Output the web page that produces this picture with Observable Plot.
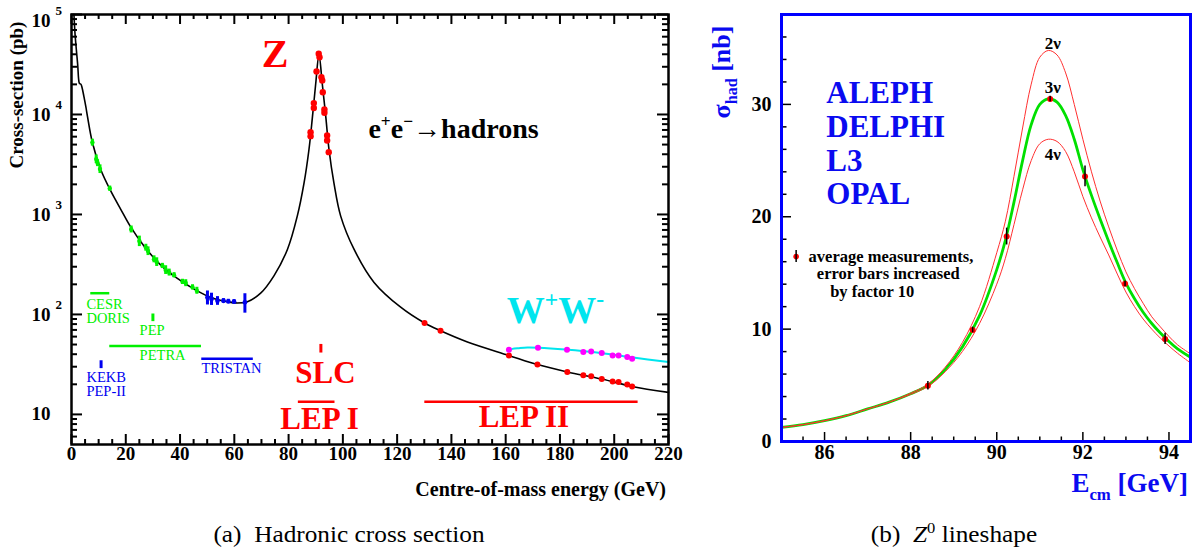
<!DOCTYPE html>
<html><head><meta charset="utf-8">
<script src="https://cdn.jsdelivr.net/npm/d3@7"></script>
<script src="https://cdn.jsdelivr.net/npm/@observablehq/plot@0.6"></script>
<style>
body{margin:0;background:#fff;}
#wrap{position:relative;width:1200px;height:554px;overflow:hidden;font-family:"Liberation Serif",serif;background:#fff;}
#pa{position:absolute;left:0;top:0;}
#pb{position:absolute;left:700px;top:0;}
.cap{position:absolute;top:521px;font-family:"Liberation Serif",serif;font-size:23px;line-height:28px;white-space:nowrap;transform:translateX(-50%) scaleX(1.1);color:#000;}
.cap sup{font-size:15px;line-height:0;}
</style></head><body>
<div id="wrap"><div id="pa"></div><div id="pb"></div>
<div class="cap" style="left:349px">(a)&nbsp; Hadronic cross section</div>
<div class="cap" style="left:954px">(b)&nbsp; <i>Z</i><sup>0</sup> lineshape</div>
</div>
<script>
const FONT = "Liberation Serif";
const RED = "#ff0000", GREEN = "#00f000", BLUE = "#0000f0", MAG = "#ff00ff", CYAN = "#00e5ee", TBLUE = "#0a0af0";

// ---------------- Panel (a): hadronic cross section ----------------
const xTickLabelsA = [0, 20, 40, 60, 80, 100, 120, 140, 160, 180, 200, 220];
const yTickExpA = [1, 2, 3, 4, 5];

// theory curve (GeV, pb)
const curveE  = [0.9, 1.3, 1.8, 2.3, 2.6, 2.9, 3.5, 3.9, 4.6, 5.3, 5.9, 7.7, 10.8, 14.5, 18.2, 21.8, 26.7, 32.9, 39.0, 45.2, 51.3, 57.5, 61.1, 64.8, 69.7, 74.6, 79.6, 83.2, 85.7, 87.5, 88.8, 90.0, 91.2, 92.4, 93.7, 94.9, 96.7, 99.2, 104.1, 111.5, 121.3, 130.1, 136.0, 145.9, 161.2, 171.7, 182.7, 195.4, 206.6, 220];
const curveXS = [100000, 64000, 44000, 31000, 23000, 20500, 20000, 18500, 15000, 11900, 9500, 5240, 2800, 1710, 1120, 750, 484, 311, 229, 179, 148, 134, 130, 134, 163, 243, 449, 962, 2070, 4440, 9500, 20400, 39500, 20400, 9500, 4440, 2070, 962, 449, 209, 118, 82, 68.6, 53, 38.9, 31.5, 26.6, 22.6, 19.0, 16.6];

// low-energy measurements (CESR, DORIS, PEP, PETRA)
const lowE   = [7.7, 9.1, 9.6, 10.5, 14.1, 22.0, 25.0, 27.4, 28.2, 30.4, 31.4, 33.5, 34.7, 36.0, 37.8, 40.9, 42.1, 44.6, 46.2];
const lowXS  = [5240, 3580, 3270, 2850, 1815, 710, 542, 466, 431, 357, 335, 306, 279, 263, 247, 212, 206, 187, 173];
const lowErr = [0.08, 0.10, 0.08, 0.10, 0.06, 0.08, 0.12, 0.08, 0.10, 0.08, 0.10, 0.06, 0.10, 0.08, 0.06, 0.06, 0.08, 0.06, 0.08];
// TRISTAN
const triE   = [50.1, 51.6, 53.8, 56.0, 57.8, 59.9, 63.9];
const triXS  = [148, 143, 137, 137, 135, 134, 132];
const triErr = [0.16, 0.14, 0.10, 0.05, 0.05, 0.05, 0.22];
// LEP I (Z peak)
const zE  = [88.1, 88.1, 89.3, 89.3, 90.3, 91.1, 91.4, 92.1, 92.4, 92.6, 93.2, 93.2, 94.2, 94.2, 94.8];
const zXS = [6650, 6070, 13000, 11600, 26900, 40500, 37400, 23600, 21900, 16700, 11200, 10400, 6170, 5500, 4200];
// LEP II hadrons
const lep2E  = [130.1, 136.0, 161.2, 171.7, 182.7, 188.6, 191.5, 195.4, 199.4, 201.6, 204.8, 206.6];
const lep2XS = [82.2, 68.6, 38.9, 31.5, 26.6, 24.6, 24.1, 22.6, 21.3, 21.1, 19.9, 19.0];
// W+W- measurements and curve
const wwE  = [161.2, 171.9, 182.6, 188.6, 191.5, 195.4, 199.4, 201.6, 204.8, 206.6];
const wwXS = [44.4, 46.5, 44.4, 42.1, 42.7, 41.1, 38.9, 38.9, 37.5, 36.1];
const wwCurveE  = [161.2, 162.5, 165, 168, 172, 182, 195, 207, 220];
const wwCurveXS = [43.5, 45.2, 46.0, 46.6, 46.4, 44.6, 41.2, 37.0, 33.4];

// facility annotations (GeV, pb)
const facNames = ["CESR", "DORIS", "PEP", "PETRA", "TRISTAN", "KEKB", "PEP-II"];
const facGroup = ["low", "low", "low", "low", "tri", "tri", "tri"];
const facLabX  = [5.5, 5.5, 25.1, 25.1, 47.9, 5.5, 5.5];
const facLabY  = [127, 91.5, 69, 38.9, 28.7, 23.6, 16.9];
const rangeLines = [
  {g: "low", x1: 7.1, x2: 14.1, y: 163},
  {g: "low", x1: 14.1, x2: 47.9, y: 48.3},
  {g: "tri", x1: 48.0, x2: 67.0, y: 36.1},
  {g: "lep", x1: 83.6, x2: 97.1, y: 13.4},
  {g: "lep", x1: 130.2, x2: 208.8, y: 13.4}
];
const pointMarks = [
  {g: "low", x: 30.0, y1: 84.7, y2: 101},
  {g: "tri", x: 10.9, y1: 28.7, y2: 34.4},
  {g: "lep", x: 91.9, y1: 41.1, y2: 50.1}
];
const bigLabels = [
  {t: "Z", x: 75.0, y: 40000},
  {t: "SLC", x: 93.6, y: 26.2},
  {t: "LEP I", x: 91.4, y: 9.0},
  {t: "LEP II", x: 166.7, y: 9.3}
];
const groupColor = {low: GREEN, tri: BLUE, lep: RED};

// ---------------- Panel (b): Z lineshape ----------------
const xTickLabelsB = [86, 88, 90, 92, 94];
const yTickLabelsB = [0, 10, 20, 30];
const lsE = [85, 85.5, 86, 86.5, 87, 87.5, 88, 88.4, 88.8, 89.2, 89.6, 90.0, 90.2, 90.4, 90.6, 90.8, 91.0, 91.2, 91.4, 91.6, 91.8, 92.0, 92.2, 92.4, 92.6, 92.8, 93.0, 93.2, 93.4, 93.6, 93.8, 94.0, 94.2, 94.5];
const ls3nu = [1.25, 1.5, 1.85, 2.3, 2.9, 3.5, 4.25, 5.0, 6.4, 8.4, 11.2, 15.3, 17.9, 21.3, 25.0, 28.2, 30.0, 30.5, 30.2, 29.0, 26.9, 24.2, 21.9, 19.8, 17.8, 15.9, 14.1, 12.7, 11.5, 10.5, 9.65, 8.9, 8.25, 7.5];
const ls2nu = [1.25, 1.5, 1.85, 2.3, 2.9, 3.5, 4.3, 5.1, 6.6, 8.8, 12.0, 16.8, 19.6, 23.6, 27.9, 31.8, 34.2, 34.8, 34.4, 32.8, 30.0, 26.9, 24.0, 21.4, 19.1, 17.0, 15.1, 13.6, 12.3, 11.1, 10.2, 9.35, 8.6, 7.8];
const ls4nu = [1.25, 1.5, 1.85, 2.3, 2.9, 3.5, 4.2, 4.9, 6.2, 8.0, 10.5, 14.0, 16.3, 19.3, 22.4, 25.0, 26.5, 26.9, 26.7, 25.8, 24.0, 21.8, 19.9, 18.2, 16.6, 14.9, 13.3, 12.0, 10.9, 10.0, 9.2, 8.5, 7.85, 7.0];
const measE   = [88.40, 89.44, 90.23, 91.24, 92.05, 92.98, 93.91];
const measSig = [4.96, 9.93, 18.24, 30.48, 23.59, 14.03, 9.13];
const measErr = [0.37, 0.15, 0.75, 0.12, 0.93, 0.15, 0.50];
const nuLabels = [{t: "2ν", x: 91.3, y: 35.45}, {t: "3ν", x: 91.3, y: 31.5}, {t: "4ν", x: 91.3, y: 25.55}];
const experiments = ["ALEPH", "DELPHI", "L3", "OPAL"];
const expY = [31, 28, 25, 22];
const legendLines = [
  {t: "average measurements,", x: 85.63, y: 16.4},
  {t: "error bars increased", x: 85.82, y: 14.92},
  {t: "by factor 10", x: 86.13, y: 13.37}
];
const legendMarker = [{x: 85.34, y: 16.46, e: 0.53}];

// helper: rich text with super/subscripts
function rich(svg, {x, y, size, weight = "bold", fill = "#000", anchor = "start", rotate = 0, parts}) {
  const t = d3.select(svg).append("text")
    .attr("transform", `translate(${x},${y}) rotate(${rotate})`)
    .attr("text-anchor", anchor).attr("font-family", FONT)
    .attr("font-size", size).attr("font-weight", weight).attr("fill", fill);
  let shift = 0;
  for (const [s, k] of parts) {
    const target = k === "sup" ? -0.42 * size : k === "sub" ? 0.28 * size : 0;
    t.append("tspan").attr("dy", target - shift).attr("font-size", k ? size * 0.62 : size).text(s);
    shift = target;
  }
}

// ---------- build panel (a) ----------
const WA = 690, HA = 500, mA = {l: 71, r: 22, t: 14, b: 56};
const fhA = HA - mA.t - mA.b, fwA = WA - mA.l - mA.r;
const xMajA = d3.range(0, 221, 20), xMinA = d3.range(0, 221, 5).filter(d => d % 20);
const yMajA = yTickExpA.map(e => 10 ** e);
const yMinA = [];
for (let k = 0; k <= 4; k++) for (let m = 2; m <= 9; m++) { const v = m * 10 ** k; if (v > 5 && v < 1e5) yMinA.push(v); }
const zip = (a, b, c) => a.map((d, i) => ({x: d, y: b[i], e: c ? c[i] : 0}));
const curve = zip(curveE, curveXS), low = zip(lowE, lowXS, lowErr), tri = zip(triE, triXS, triErr);
const zpk = zip(zE, zXS), lep2 = zip(lep2E, lep2XS), ww = zip(wwE, wwXS), wwc = zip(wwCurveE, wwCurveXS);
const facs = facNames.map((t, i) => ({t, g: facGroup[i], x: facLabX[i], y: facLabY[i]}));
const expInner = yTickExpA.filter(d => d < 5), expTop = yTickExpA.filter(d => d === 5);

const plotA = Plot.plot({
  width: WA, height: HA, marginLeft: mA.l, marginRight: mA.r, marginTop: mA.t, marginBottom: mA.b,
  x: {domain: [0, 220], axis: null},
  y: {type: "log", domain: [5, 1e5], axis: null},
  style: {fontFamily: FONT, background: "white", overflow: "visible"},
  marks: [
    Plot.tickX(xMajA, {x: d => d, insetTop: fhA - 10, strokeWidth: 2}),
    Plot.tickX(xMinA, {x: d => d, insetTop: fhA - 5, strokeWidth: 2}),
    Plot.tickX(xMajA, {x: d => d, insetBottom: fhA - 10, strokeWidth: 2}),
    Plot.tickX(xMinA, {x: d => d, insetBottom: fhA - 5, strokeWidth: 2}),
    Plot.tickY(yMajA, {y: d => d, insetRight: fwA - 11, strokeWidth: 2}),
    Plot.tickY(yMinA, {y: d => d, insetRight: fwA - 6, strokeWidth: 2}),
    Plot.tickY(yMajA, {y: d => d, insetLeft: fwA - 11, strokeWidth: 2}),
    Plot.tickY(yMinA, {y: d => d, insetLeft: fwA - 6, strokeWidth: 2}),
    Plot.text(xTickLabelsA, {x: d => d, frameAnchor: "bottom", dy: 15, text: d => String(d), fontSize: 19, fontWeight: "bold"}),
    Plot.text(expInner, {y: d => 10 ** d, frameAnchor: "left", dx: -21, textAnchor: "end", text: () => "10", fontSize: 19, fontWeight: "bold"}),
    Plot.text(expInner.filter(d => d > 1), {y: d => 10 ** d, frameAnchor: "left", dx: -16, dy: -10, textAnchor: "start", text: d => String(d), fontSize: 13, fontWeight: "bold"}),
    Plot.text(expTop, {y: d => 10 ** d, frameAnchor: "left", dx: -21, dy: 6, textAnchor: "end", text: () => "10", fontSize: 19, fontWeight: "bold"}),
    Plot.text(expTop, {y: d => 10 ** d, frameAnchor: "left", dx: -16, dy: -4, textAnchor: "start", text: d => String(d), fontSize: 13, fontWeight: "bold"}),
    // facility ranges
    Plot.ruleY(rangeLines, {x1: "x1", x2: "x2", y: "y", stroke: d => groupColor[d.g], strokeWidth: 2.5}),
    Plot.ruleX(pointMarks, {x: "x", y1: "y1", y2: "y2", stroke: d => groupColor[d.g], strokeWidth: 3}),
    Plot.text(facs, {x: "x", y: "y", text: "t", textAnchor: "start", fill: d => groupColor[d.g], fontSize: 14.5}),
    Plot.text(bigLabels, {x: "x", y: "y", text: "t", fill: RED, fontSize: d => d.t === "Z" ? 40 : 31}),
    // curves
    Plot.line(curve, {x: "x", y: "y", stroke: "black", strokeWidth: 1.6, curve: "catmull-rom"}),
    Plot.line(wwc, {x: "x", y: "y", stroke: CYAN, strokeWidth: 2, curve: "catmull-rom"}),
    // data
    Plot.ruleX(low, {x: "x", y1: d => d.y * (1 - d.e), y2: d => d.y * (1 + d.e), stroke: GREEN, strokeWidth: 3}),
    Plot.dot(low, {x: "x", y: "y", r: 2.2, fill: GREEN}),
    Plot.ruleX(tri, {x: "x", y1: d => d.y * (1 - d.e), y2: d => d.y * (1 + d.e), stroke: BLUE, strokeWidth: 3}),
    Plot.dot(tri, {x: "x", y: "y", r: 2.4, fill: BLUE}),
    Plot.dot(zpk, {x: "x", y: "y", r: 3.2, fill: RED}),
    Plot.dot(lep2, {x: "x", y: "y", r: 3, fill: RED}),
    Plot.dot(ww, {x: "x", y: "y", r: 3, fill: MAG}),
    Plot.frame({stroke: "black", strokeWidth: 2.5})
  ]
});
plotA.querySelectorAll("text").forEach(t => { if (["Z","SLC","LEP I","LEP II"].includes(t.textContent)) t.setAttribute("font-weight", "bold"); });
document.getElementById("pa").appendChild(plotA);
{
  const sx = plotA.scale("x"), sy = plotA.scale("y");
  rich(plotA, {x: sx.apply(109.6), y: sy.apply(5710), size: 28, parts: [["e", ""], ["+", "sup"], ["e", ""], ["−", "sup"], ["→hadrons", ""]]});
  rich(plotA, {x: sx.apply(160.6), y: sy.apply(80.5), size: 38, fill: CYAN, parts: [["W", ""], ["+", "sup"], ["W", ""], ["-", "sup"]]});
  rich(plotA, {x: 23, y: 95, size: 19, anchor: "middle", rotate: -90, parts: [["Cross-section (pb)", ""]]});
  rich(plotA, {x: 666, y: 496, size: 20, anchor: "end", parts: [["Centre-of-mass energy (GeV)", ""]]});
}

// ---------- build panel (b) ----------
const WB = 500, HB = 500, mB = {l: 81, r: 10, t: 14, b: 59};
const fhB = HB - mB.t - mB.b, fwB = WB - mB.l - mB.r;
const xMajB = d3.range(86, 94.01, 2), xMinB = d3.range(85.5, 94.51, 0.5).filter(d => d % 2 !== 0);
const yMajB = yTickLabelsB, yMinB = d3.range(2, 37, 2).filter(d => d % 10);
const l2 = zip(lsE, ls2nu), l3 = zip(lsE, ls3nu), l4 = zip(lsE, ls4nu), meas = zip(measE, measSig, measErr);
const exps = experiments.map((t, i) => ({t, y: expY[i]}));

const plotB = Plot.plot({
  width: WB, height: HB, marginLeft: mB.l, marginRight: mB.r, marginTop: mB.t, marginBottom: mB.b,
  x: {domain: [85, 94.5], axis: null},
  y: {domain: [0, 38], axis: null},
  style: {fontFamily: FONT, background: "white", overflow: "visible"},
  marks: [
    Plot.tickX(xMajB, {x: d => d, insetTop: fhB - 9, strokeWidth: 1.5}),
    Plot.tickX(xMinB, {x: d => d, insetTop: fhB - 4.5, strokeWidth: 1.5}),
    Plot.tickY(yMajB, {y: d => d, insetRight: fwB - 10, strokeWidth: 1.5}),
    Plot.tickY(yMinB, {y: d => d, insetRight: fwB - 5.5, strokeWidth: 1.5}),
    Plot.text(xTickLabelsB, {x: d => d, frameAnchor: "bottom", dy: 17, text: d => String(d), fontSize: 20, fontWeight: "bold"}),
    Plot.text(yTickLabelsB, {y: d => d, frameAnchor: "left", dx: -10, textAnchor: "end", text: d => String(d), fontSize: 20, fontWeight: "bold"}),
    Plot.text(exps, {x: 86.04, y: "y", text: "t", textAnchor: "start", fill: TBLUE, fontSize: 31, fontWeight: "bold"}),
    Plot.text(legendLines, {x: "x", y: "y", text: "t", textAnchor: "start", fontSize: 16.5, fontWeight: "bold"}),
    Plot.dot(legendMarker, {x: "x", y: "y", r: 2.8, fill: RED}),
    Plot.ruleX(legendMarker, {x: "x", y1: d => d.y - d.e, y2: d => d.y + d.e, stroke: "black", strokeWidth: 1.5}),
    Plot.line(l3, {x: "x", y: "y", stroke: "#00e000", strokeWidth: 2.8, curve: "catmull-rom"}),
    Plot.line(l2, {x: "x", y: "y", stroke: "#ff3030", strokeWidth: 1, curve: "catmull-rom"}),
    Plot.line(l4, {x: "x", y: "y", stroke: "#ff3030", strokeWidth: 1, curve: "catmull-rom"}),
    Plot.text(nuLabels, {x: "x", y: "y", text: "t", fontSize: 17, fontWeight: "bold"}),
    Plot.dot(meas, {x: "x", y: "y", r: 3, fill: RED}),
    Plot.ruleX(meas, {x: "x", y1: d => d.y - Math.max(d.e, 0.25), y2: d => d.y + Math.max(d.e, 0.25), stroke: "black", strokeWidth: 1.5}),
    Plot.frame({stroke: "#0000ff", strokeWidth: 3})
  ]
});
document.getElementById("pb").appendChild(plotB);
{
  rich(plotB, {x: 30, y: 72, size: 26, fill: TBLUE, anchor: "middle", rotate: -90, parts: [["σ", ""], ["had", "sub"], [" [nb]", ""]]});
  rich(plotB, {x: 488, y: 492, size: 27, fill: TBLUE, anchor: "end", parts: [["E", ""], ["cm", "sub"], [" [GeV]", ""]]});
}
</script>
</body></html>
